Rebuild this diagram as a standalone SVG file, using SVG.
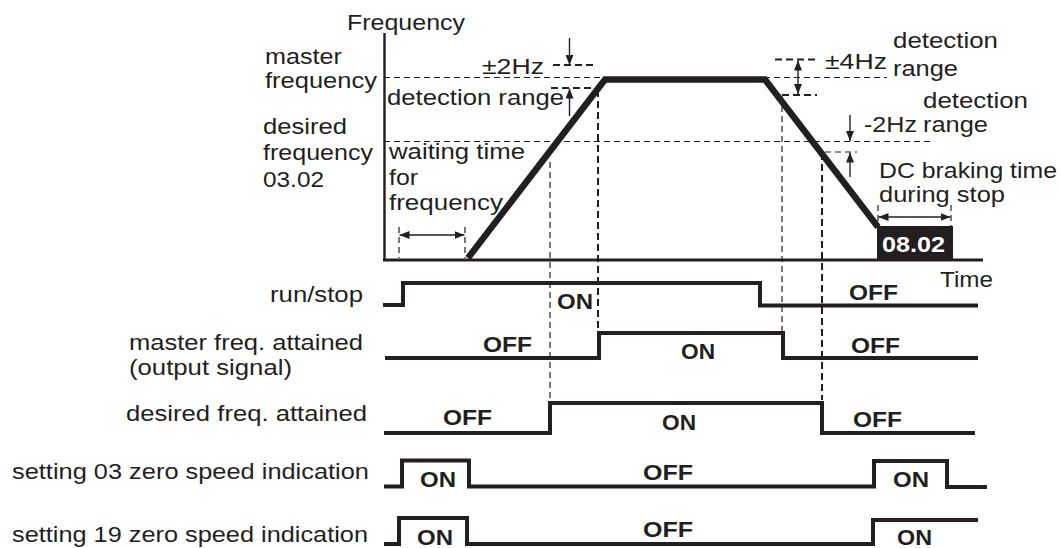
<svg xmlns="http://www.w3.org/2000/svg" width="1061" height="548" viewBox="0 0 1061 548">
<defs>
<style>
text{font-family:"Liberation Sans",Arial,sans-serif;font-size:22px;fill:#231f20;}
.b{font-weight:bold;}
.w{fill:#ffffff;font-weight:bold;}
.ax{stroke:#231f20;fill:none;}
.thick{stroke:#231f20;stroke-width:6.5;fill:none;stroke-linejoin:miter;}
.sig{stroke:#231f20;stroke-width:4;fill:none;stroke-linejoin:miter;}
.d1{stroke:#231f20;stroke-width:1.2;stroke-dasharray:6 4;fill:none;}
.d2{stroke:#231f20;stroke-width:2;stroke-dasharray:7 4;fill:none;}
.arr{stroke:#231f20;stroke-width:1.4;fill:none;}
</style>
<marker id="ah" viewBox="0 0 10 8" refX="10" refY="4" markerWidth="10" markerHeight="8" orient="auto-start-reverse" markerUnits="userSpaceOnUse">
<path d="M0,0 L10,4 L0,8 z" fill="#231f20"/>
</marker>
</defs>
<rect x="0" y="0" width="1061" height="548" fill="#ffffff"/>

<g id="chart">
<g id="guides">
<line class="d1" x1="384" y1="77.5" x2="887" y2="77.5"/>
<line class="d1" x1="384" y1="141.5" x2="933" y2="141.5"/>
<line class="d1" x1="550" y1="162" x2="550" y2="402"/>
<line class="d2" x1="598" y1="90" x2="598" y2="332"/>
<line class="d1" x1="782" y1="96" x2="782" y2="352"/>
<line class="d2" x1="822" y1="153" x2="822" y2="400"/>
<line class="d2" x1="553" y1="65" x2="593" y2="65"/>
<line class="d2" x1="551" y1="88" x2="597" y2="88"/>
<line class="d2" x1="775" y1="59.5" x2="817" y2="59.5"/>
<line class="d2" x1="782" y1="95" x2="817" y2="95"/>
<line class="d1" x1="825" y1="152" x2="857" y2="152"/>
<line class="d1" x1="399" y1="227" x2="399" y2="258"/>
<line class="d1" x1="465" y1="227" x2="465" y2="258"/>
<line class="d1" x1="878" y1="205" x2="878" y2="226"/>
<line class="d1" x1="951" y1="205" x2="951" y2="226"/>
</g>
<g id="axes">
<line class="ax" stroke-width="2.4" x1="384.5" y1="33" x2="384.5" y2="261"/>
<line class="ax" stroke-width="3.2" x1="383" y1="260" x2="983" y2="260"/>
</g>
<g id="curve">
<path class="thick" d="M468,258 L605,79.5 L765,79.5 L878,227"/>
<rect id="box0802" x="877" y="226" width="76" height="34" fill="#231f20"/>
<text class="w" x="882" y="252" textLength="63" lengthAdjust="spacingAndGlyphs">08.02</text>
</g>
<g id="arrows">
<line class="arr" x1="569.5" y1="38" x2="569.5" y2="65" marker-end="url(#ah)"/>
<line class="arr" x1="569.5" y1="116" x2="569.5" y2="88.5" marker-end="url(#ah)"/>
<line class="arr" x1="798" y1="60.5" x2="798" y2="94" marker-start="url(#ah)" marker-end="url(#ah)"/>
<line class="arr" x1="850" y1="115" x2="850" y2="141" marker-end="url(#ah)"/>
<line class="arr" x1="850" y1="177" x2="850" y2="152.5" marker-end="url(#ah)"/>
<line class="arr" x1="399.5" y1="235" x2="464.5" y2="235" marker-start="url(#ah)" marker-end="url(#ah)"/>
<line class="arr" x1="878.5" y1="217" x2="950.5" y2="217" marker-start="url(#ah)" marker-end="url(#ah)"/>
</g>
<g id="chart-labels">
<text x="347" y="30" textLength="118" lengthAdjust="spacingAndGlyphs">Frequency</text>
<text x="265" y="64" textLength="77" lengthAdjust="spacingAndGlyphs">master</text>
<text x="265" y="88" textLength="112" lengthAdjust="spacingAndGlyphs">frequency</text>
<text x="263" y="134" textLength="84" lengthAdjust="spacingAndGlyphs">desired</text>
<text x="263" y="160" textLength="110" lengthAdjust="spacingAndGlyphs">frequency</text>
<text x="263" y="187" textLength="61" lengthAdjust="spacingAndGlyphs">03.02</text>
<text x="482" y="74" textLength="62" lengthAdjust="spacingAndGlyphs">±2Hz</text>
<text x="387" y="105" textLength="177" lengthAdjust="spacingAndGlyphs">detection range</text>
<text x="389" y="159" textLength="136" lengthAdjust="spacingAndGlyphs">waiting time</text>
<text x="389" y="185" textLength="29" lengthAdjust="spacingAndGlyphs">for</text>
<text x="389" y="210" textLength="114" lengthAdjust="spacingAndGlyphs">frequency</text>
<text x="825" y="69" textLength="62" lengthAdjust="spacingAndGlyphs">±4Hz</text>
<text x="893" y="48" textLength="105" lengthAdjust="spacingAndGlyphs">detection</text>
<text x="893" y="76" textLength="65" lengthAdjust="spacingAndGlyphs">range</text>
<text x="923" y="108" textLength="105" lengthAdjust="spacingAndGlyphs">detection</text>
<text x="864" y="132" textLength="53" lengthAdjust="spacingAndGlyphs">-2Hz</text>
<text x="923" y="132" textLength="65" lengthAdjust="spacingAndGlyphs">range</text>
<text x="879" y="178" textLength="178" lengthAdjust="spacingAndGlyphs">DC braking time</text>
<text x="879" y="202" textLength="126" lengthAdjust="spacingAndGlyphs">during stop</text>
<text x="940" y="287" textLength="53" lengthAdjust="spacingAndGlyphs">Time</text>
</g>
</g>

<g id="signal-runstop">
<text x="270" y="302" textLength="93" lengthAdjust="spacingAndGlyphs">run/stop</text>
<path class="sig" d="M383,305 H403 V283 H760 V305.5 H978"/>
<text class="b" x="557" y="309" textLength="36" lengthAdjust="spacingAndGlyphs">ON</text>
<text class="b" x="849" y="300" textLength="49" lengthAdjust="spacingAndGlyphs">OFF</text>
</g>
<g id="signal-master">
<text x="129" y="350" textLength="234" lengthAdjust="spacingAndGlyphs">master freq. attained</text>
<text x="129" y="375" textLength="163" lengthAdjust="spacingAndGlyphs">(output signal)</text>
<path class="sig" d="M385,358 H599 V333 H783 V358 H978"/>
<text class="b" x="483" y="352" textLength="49" lengthAdjust="spacingAndGlyphs">OFF</text>
<text class="b" x="681" y="359" textLength="34" lengthAdjust="spacingAndGlyphs">ON</text>
<text class="b" x="851" y="353" textLength="49" lengthAdjust="spacingAndGlyphs">OFF</text>
</g>
<g id="signal-desired">
<text x="126" y="421" textLength="241" lengthAdjust="spacingAndGlyphs">desired freq. attained</text>
<path class="sig" d="M384,433 H550 V403 H822 V433 H975"/>
<text class="b" x="443" y="425" textLength="49" lengthAdjust="spacingAndGlyphs">OFF</text>
<text class="b" x="662" y="430" textLength="34" lengthAdjust="spacingAndGlyphs">ON</text>
<text class="b" x="853" y="427" textLength="49" lengthAdjust="spacingAndGlyphs">OFF</text>
</g>
<g id="signal-setting03">
<text x="12" y="479" textLength="357" lengthAdjust="spacingAndGlyphs">setting 03 zero speed indication</text>
<path class="sig" d="M384,486.5 H402 V460.5 H469 V486.5 H874 V461 H947 V487 H987"/>
<text class="b" x="420" y="487" textLength="36" lengthAdjust="spacingAndGlyphs">ON</text>
<text class="b" x="643" y="480" textLength="50" lengthAdjust="spacingAndGlyphs">OFF</text>
<text class="b" x="893" y="487" textLength="36" lengthAdjust="spacingAndGlyphs">ON</text>
</g>
<g id="signal-setting19">
<text x="12" y="542" textLength="356" lengthAdjust="spacingAndGlyphs">setting 19 zero speed indication</text>
<path class="sig" d="M384,544 H399 V518 H467 V544 H873 V520 H978"/>
<text class="b" x="417" y="545" textLength="36" lengthAdjust="spacingAndGlyphs">ON</text>
<text class="b" x="643" y="537" textLength="50" lengthAdjust="spacingAndGlyphs">OFF</text>
<text class="b" x="897" y="545" textLength="35" lengthAdjust="spacingAndGlyphs">ON</text>
</g>
</svg>
